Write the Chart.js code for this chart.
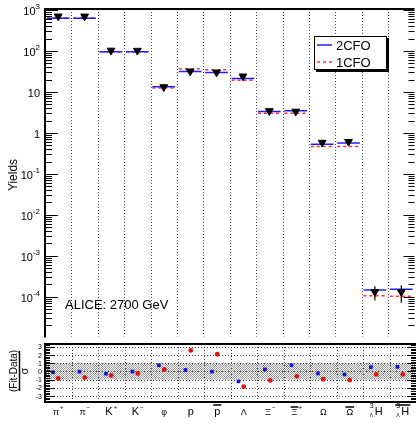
<!DOCTYPE html>
<html>
<head>
<meta charset="utf-8">
<script src="https://cdn.jsdelivr.net/npm/chart.js@4.4.1/dist/chart.umd.min.js"></script>
<style>
    body { margin: 0; background: #fff; }
    #wrap { position: relative; width: 420px; height: 424px; }
    canvas { position: absolute; left: 0; }
    #yield-chart { top: 0; }
    #dev-chart { top: 340px; }
</style>
</head>
<body>
<div id="wrap">
    <canvas id="yield-chart" width="420" height="342"></canvas>
    <canvas id="dev-chart" width="420" height="84"></canvas>
</div>
<script>
// particle labels (base symbol, superscript, left superscript / subscript, antiparticle bar)
const particles = [
    {base: 'π', sup: '+'}, {base: 'π', sup: '−'},
    {base: 'K', sup: '+'}, {base: 'K', sup: '−'},
    {base: 'φ'}, {base: 'p'}, {base: 'p', bar: true},
    {base: 'Λ'}, {base: 'Ξ', sup: '−'}, {base: 'Ξ', sup: '+', bar: true},
    {base: 'Ω'}, {base: 'Ω', bar: true},
    {base: 'H', pre: '3', sub: 'Λ'}, {base: 'H', pre: '3', sub: 'Λ', bar: true},
];

// yields
const yieldData  = [700, 700, 103, 102, 13.2, 31.8, 30.0, 24.1, 3.44, 3.34, 0.58, 0.61, 1.31e-4, 1.31e-4];
const yieldError = [40, 40, 8, 8, 1.0, 2.2, 2.2, 1.6, 0.25, 0.25, 0.05, 0.05, 0.5e-4, 0.6e-4];
const yield2CFO  = [630, 630, 95, 95, 13.3, 31.3, 29.6, 21.2, 3.31, 3.49, 0.527, 0.57, 1.46e-4, 1.52e-4];
const yield1CFO  = [635, 635, 96, 96, 12.4, 37.0, 34.9, 19.3, 3.03, 3.03, 0.464, 0.464, 1.06e-4, 1.03e-4];

// (Fit-Data)/sigma
const dev2CFO = [-0.1, -0.02, -0.28, -0.02, 0.76, 0.18, -0.02, -1.21, 0.25, 0.76, -0.25, -0.37, 0.53, 0.56];
const dev1CFO = [-0.86, -0.75, -0.48, -0.25, 0.25, 2.57, 2.1, -1.87, -1.1, -0.6, -0.95, -1.06, -0.37, -0.37];

const yTickExps = [3, 2, 1, 0, -1, -2, -3, -4];
const devTicks = [3, 2, 1, 0, -1, -2, -3];
const devBand = [-1, 1];

const FONT = '"Liberation Sans", Arial, sans-serif';

function stepPoints(values) {
    const pts = [];
    values.forEach((v, i) => {
        pts.push({x: i - 0.43, y: v}, {x: i + 0.43, y: v}, {x: i, y: null});
    });
    return pts;
}

function line(ctx, x1, y1, x2, y2) {
    ctx.beginPath();
    ctx.moveTo(x1, y1);
    ctx.lineTo(x2, y2);
    ctx.stroke();
}

function categoryDividers(chart) {
    const ctx = chart.ctx;
    const x = chart.scales.x;
    const area = chart.chartArea;
    ctx.save();
    ctx.strokeStyle = '#444';
    ctx.lineWidth = 1;
    ctx.setLineDash([1, 2]);
    for (let i = 0; i < particles.length - 1; i++) {
        const px = Math.round(x.getPixelForValue(i + 0.5)) + 0.5;
        line(ctx, px, area.top, px, area.bottom);
    }
    ctx.restore();
}

const yieldPlugin = {
    id: 'yieldFrame',
    beforeDatasetsDraw: function(chart) {
        categoryDividers(chart);
    },
    afterDatasetsDraw: function(chart) {
        const ctx = chart.ctx;
        const x = chart.scales.x;
        const y = chart.scales.y;
        ctx.save();
        ctx.strokeStyle = '#000';
        ctx.lineWidth = 1.2;
        yieldData.forEach((v, i) => {
            const px = x.getPixelForValue(i);
            line(ctx, px, y.getPixelForValue(v + yieldError[i]), px, y.getPixelForValue(v - yieldError[i]));
        });
        ctx.restore();
    },
    afterDraw: function(chart) {
        const ctx = chart.ctx;
        const area = chart.chartArea;
        const y = chart.scales.y;
        ctx.save();
        ctx.strokeStyle = '#000';

        // log ticks, inward on both sides
        ctx.lineWidth = 1;
        for (let e = -5; e <= 3; e++) {
            for (let m = 1; m <= 9; m++) {
                const v = m * Math.pow(10, e);
                if (v < y.min || v > y.max) continue;
                const py = Math.round(y.getPixelForValue(v)) + 0.5;
                line(ctx, area.left, py, area.left + (m === 1 ? 13 : 7), py);
                line(ctx, area.right, py, area.right - (m === 1 ? 11 : 6), py);
            }
        }

        // frame
        ctx.lineWidth = 2;
        line(ctx, area.left, area.top, area.right, area.top);
        line(ctx, area.left, area.top - 1, area.left, area.bottom + 1);

        // tick labels
        ctx.fillStyle = '#000';
        ctx.textBaseline = 'alphabetic';
        yTickExps.forEach((e) => {
            const py = y.getPixelForValue(Math.pow(10, e));
            const right = 40;
            if (e === 0 || e === 1) {
                ctx.font = '11px ' + FONT;
                ctx.textAlign = 'right';
                ctx.fillText(e === 0 ? '1' : '10', right, py + 5);
            } else {
                const sup = String(e).replace('-', '-');
                ctx.font = '8px ' + FONT;
                const sw = ctx.measureText(sup).width;
                ctx.textAlign = 'left';
                ctx.fillText(sup, right - sw, py - 0.5);
                ctx.font = '11px ' + FONT;
                ctx.textAlign = 'right';
                ctx.fillText('10', right - sw, py + 5);
            }
        });

        // axis title
        ctx.save();
        ctx.translate(17, 175);
        ctx.rotate(-Math.PI / 2);
        ctx.font = '12px ' + FONT;
        ctx.textAlign = 'center';
        ctx.fillText('Yields', 0, 0);
        ctx.restore();

        // annotation
        ctx.font = '13px ' + FONT;
        ctx.textAlign = 'left';
        ctx.fillText('ALICE: 2700 GeV', 65, 309);

        // legend with shadow
        const lx = 314, ly = 36, lw = 73, lh = 34;
        ctx.fillStyle = '#000';
        ctx.fillRect(lx + 2, ly + 2, lw, lh);
        ctx.fillStyle = '#fff';
        ctx.fillRect(lx, ly, lw, lh);
        ctx.lineWidth = 1;
        ctx.strokeRect(lx + 0.5, ly + 0.5, lw - 1, lh - 1);
        const entries = chart.data.datasets.slice(1);
        entries.forEach((ds, k) => {
            const ey = ly + 9 + k * 17;
            ctx.save();
            ctx.strokeStyle = ds.borderColor;
            ctx.lineWidth = ds.borderWidth;
            ctx.setLineDash(ds.borderDash || []);
            line(ctx, lx + 3, ey, lx + 18, ey);
            ctx.restore();
            ctx.fillStyle = '#000';
            ctx.font = '13px ' + FONT;
            ctx.fillText(ds.label, lx + 22, ey + 5);
        });
        ctx.restore();
    }
};

new Chart(document.getElementById('yield-chart').getContext('2d'), {
    type: 'scatter',
    data: {
        datasets: [
            {
                label: 'ALICE',
                data: yieldData.map((v, i) => ({x: i, y: v})),
                pointStyle: 'triangle',
                rotation: 180,
                pointRadius: 4.5,
                backgroundColor: '#000',
                borderColor: '#000',
                borderWidth: 1,
            },
            {
                label: '2CFO',
                data: stepPoints(yield2CFO),
                showLine: true,
                borderColor: '#2020ff',
                borderWidth: 1.5,
                pointRadius: 0,
            },
            {
                label: '1CFO',
                data: stepPoints(yield1CFO),
                showLine: true,
                borderColor: '#ff3030',
                borderDash: [3, 3],
                borderWidth: 1.5,
                pointRadius: 0,
            },
        ],
    },
    options: {
        responsive: false,
        animation: false,
        layout: {padding: {left: 45, top: 9, right: 0, bottom: 2}},
        scales: {
            x: {type: 'linear', min: -0.5, max: 13.5, display: false},
            y: {type: 'logarithmic', min: 1.07e-5, max: 1057, display: false},
        },
        plugins: {
            legend: {display: false},
            tooltip: {enabled: false},
        },
    },
    plugins: [yieldPlugin],
});

// hatched band pattern
const patternCanvas = document.createElement('canvas');
patternCanvas.width = 2;
patternCanvas.height = 2;
const pctx = patternCanvas.getContext('2d');
pctx.fillStyle = '#fff';
pctx.fillRect(0, 0, 2, 2);
pctx.fillStyle = '#999';
pctx.fillRect(0, 0, 1, 1);
pctx.fillRect(1, 1, 1, 1);

function drawParticleLabel(ctx, p, cx, base) {
    const greek = /[α-ωΑ-Ω]/.test(p.base);
    const mainFont = (greek ? '9px ' : '11px ') + FONT;
    const smallFont = '6px ' + FONT;
    ctx.font = mainFont;
    const bw = ctx.measureText(p.base).width;
    ctx.font = smallFont;
    const preW = p.pre ? Math.max(ctx.measureText(p.pre).width, ctx.measureText(p.sub).width) + 1 : 0;
    const supW = p.sup ? ctx.measureText(p.sup).width + 1 : 0;
    const total = preW + bw + supW;
    let x0 = cx - total / 2;
    ctx.textAlign = 'left';
    if (p.pre) {
        ctx.font = '7px ' + FONT;
        ctx.fillText(p.pre, x0, base - 7);
        ctx.font = '5px ' + FONT;
        ctx.fillText(p.sub, x0, base + 2);
    }
    ctx.font = mainFont;
    ctx.fillText(p.base, x0 + preW, base);
    if (p.sup) {
        ctx.font = smallFont;
        ctx.fillText(p.sup, x0 + preW + bw + 1, base - 6);
    }
    if (p.bar) {
        ctx.save();
        ctx.lineWidth = 1.5;
        const top = base - (greek ? 8 : 10);
        const bx = p.pre ? x0 - 1 : x0 + preW - 1;
        line(ctx, bx, top, x0 + preW + bw + 1, top);
        ctx.restore();
    }
}

const devPlugin = {
    id: 'devFrame',
    beforeDatasetsDraw: function(chart) {
        const ctx = chart.ctx;
        const area = chart.chartArea;
        const x = chart.scales.x;
        const y = chart.scales.y;
        ctx.save();
        ctx.fillStyle = ctx.createPattern(patternCanvas, 'repeat');
        const top = y.getPixelForValue(devBand[1]);
        const bottom = y.getPixelForValue(devBand[0]);
        ctx.fillRect(area.left, top, area.right - area.left, bottom - top);
        ctx.strokeStyle = '#444';
        ctx.lineWidth = 1;
        ctx.setLineDash([1, 2]);
        devTicks.forEach((t) => {
            const py = Math.round(y.getPixelForValue(t)) + 0.5;
            line(ctx, area.left, py, area.right, py);
        });
        ctx.restore();
        categoryDividers(chart);
    },
    afterDraw: function(chart) {
        const ctx = chart.ctx;
        const area = chart.chartArea;
        const x = chart.scales.x;
        const y = chart.scales.y;
        ctx.save();
        ctx.strokeStyle = '#000';
        ctx.lineWidth = 1;
        for (let v = -3.6; v <= 3.3; v += 0.2) {
            const t = Math.round(v * 10) / 10;
            const major = Math.abs(t - Math.round(t)) < 1e-6;
            const py = Math.round(y.getPixelForValue(t)) + 0.5;
            line(ctx, area.left, py, area.left + (major ? 10 : 5), py);
            line(ctx, area.right, py, area.right - (major ? 9 : 5), py);
        }
        ctx.lineWidth = 2;
        line(ctx, area.left, area.top, area.right, area.top);
        line(ctx, area.left, area.bottom, area.right, area.bottom);
        line(ctx, area.left, area.top - 1, area.left, area.bottom + 1);

        ctx.fillStyle = '#000';
        ctx.font = '7px ' + FONT;
        ctx.textAlign = 'right';
        devTicks.forEach((t) => {
            ctx.fillText(String(t), 42, y.getPixelForValue(t) + 2.5);
        });

        // axis title: (Fit-Data) over sigma
        ctx.save();
        ctx.translate(17, 31);
        ctx.rotate(-Math.PI / 2);
        ctx.font = '10px ' + FONT;
        ctx.textAlign = 'center';
        ctx.fillText('(Fit-Data)', 0, 0);
        ctx.lineWidth = 1.5;
        line(ctx, -20, 2.5, 20, 2.5);
        ctx.font = '11px ' + FONT;
        ctx.fillText('σ', 0, 11);
        ctx.restore();

        particles.forEach((p, i) => {
            drawParticleLabel(ctx, p, x.getPixelForValue(i), 75);
        });
        ctx.restore();
    }
};

new Chart(document.getElementById('dev-chart').getContext('2d'), {
    type: 'scatter',
    data: {
        datasets: [
            {
                label: '2CFO',
                data: dev2CFO.map((v, i) => ({x: i - 0.2, y: v})),
                pointStyle: 'rect',
                pointRadius: 2.6,
                backgroundColor: '#1010e0',
                borderWidth: 0,
            },
            {
                label: '1CFO',
                data: dev1CFO.map((v, i) => ({x: i, y: v})),
                pointStyle: 'circle',
                pointRadius: 2.4,
                backgroundColor: '#e01010',
                borderWidth: 0,
            },
        ],
    },
    options: {
        responsive: false,
        animation: false,
        layout: {padding: {left: 45, top: 1, right: 0, bottom: 22}},
        scales: {
            x: {type: 'linear', min: -0.5, max: 13.5, display: false},
            y: {type: 'linear', min: -3.73, max: 3.35, display: false},
        },
        plugins: {
            legend: {display: false},
            tooltip: {enabled: false},
        },
    },
    plugins: [devPlugin],
});
</script>
</body>
</html>
